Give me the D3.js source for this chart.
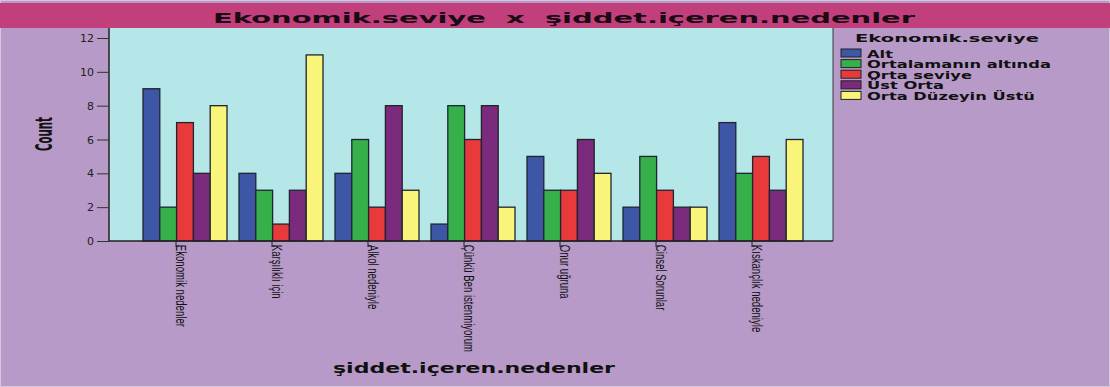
<!DOCTYPE html>
<html>
<head>
<meta charset="utf-8">
<script src="https://cdn.jsdelivr.net/npm/d3@7"></script>
<style>
  body { margin: 0; background: #b89ac8; }
  svg { display: block; }
</style>
</head>
<body>
<svg id="chart" width="1110" height="387"></svg>
<script>
const categories = [
  "Ekonomik nedenler",
  "Karşılıklı için",
  "Alkol nedeniyle",
  "Çünkü Ben istenmiyorum",
  "Onur uğruna",
  "Cinsel Sorunlar",
  "Kıskançlık nedeniyle",
];
const seriesNames = ["Alt", "Ortalamanın altında", "Orta seviye", "Üst Orta", "Orta Düzeyin Üstü"];
const seriesColors = ["#3d56a6", "#36b04a", "#e83a3a", "#7b2b7c", "#f9f57a"];
const alt = [9, 4, 4, 1, 5, 2, 7];
const ortalamaninAltinda = [2, 3, 6, 8, 3, 5, 4];
const ortaSeviye = [7, 1, 2, 6, 3, 3, 5];
const ustOrta = [4, 3, 8, 8, 6, 2, 3];
const ortaDuzeyinUstu = [8, 11, 3, 2, 4, 2, 6];
const yTicks = [0, 2, 4, 6, 8, 10, 12];

const seriesValues = [alt, ortalamaninAltinda, ortaSeviye, ustOrta, ortaDuzeyinUstu];

const svg = d3.select("#chart");
const W = 1110, H = 387;
const plot = { left: 109, right: 833, top: 28, bottom: 241 };
const sans = "DejaVu Sans, Liberation Sans, sans-serif";

// background + frame
svg.append("rect").attr("x", 0.5).attr("y", 0.5).attr("width", W - 1).attr("height", H - 1)
  .attr("fill", "#b89ac8").attr("stroke", "#d6c6de").attr("stroke-width", 1);

// title bar (the source image is stretched wide, so texts get a fixed length)
svg.append("rect").attr("x", 0).attr("y", 3).attr("width", W).attr("height", 25).attr("fill", "#c1407c");
svg.append("text").attr("x", 213).attr("y", 22.5)
  .attr("font-family", sans).attr("font-weight", "bold")
  .attr("font-size", 14.5).attr("fill", "#1a0a14")
  .attr("xml:space", "preserve")
  .attr("textLength", 702).attr("lengthAdjust", "spacingAndGlyphs")
  .text("Ekonomik.seviye  x  şiddet.içeren.nedenler");

// plot area
svg.append("rect").attr("x", plot.left).attr("y", plot.top)
  .attr("width", plot.right - plot.left).attr("height", plot.bottom - plot.top)
  .attr("fill", "#b5e6e8");

const x0 = d3.scaleBand().domain(categories).range([143, 803]).paddingInner(0.125).paddingOuter(0);
const x1 = d3.scaleBand().domain(seriesNames).range([0, x0.bandwidth()]).padding(0);
const y = d3.scaleLinear().domain([0, 12]).range([plot.bottom, 38]);

const groups = svg.append("g").selectAll("g")
  .data(categories)
  .join("g")
  .attr("transform", d => `translate(${x0(d)},0)`);

groups.selectAll("rect")
  .data((c, ci) => seriesNames.map((s, si) => ({ s, si, v: seriesValues[si][ci] })))
  .join("rect")
  .attr("x", d => x1(d.s))
  .attr("y", d => y(d.v))
  .attr("width", x1.bandwidth())
  .attr("height", d => y(0) - y(d.v))
  .attr("fill", d => seriesColors[d.si])
  .attr("stroke", "#1f2430")
  .attr("stroke-width", 1.3);

// right edge of plot
svg.append("line").attr("x1", plot.right).attr("x2", plot.right).attr("y1", plot.top).attr("y2", plot.bottom)
  .attr("stroke", "#3a3a3a").attr("stroke-width", 1);

// y axis
const yAxis = svg.append("g").attr("transform", `translate(${plot.left},0)`)
  .call(d3.axisLeft(y).tickValues(yTicks).tickSize(12).tickPadding(3).tickSizeOuter(0));
yAxis.select(".domain").attr("stroke", "#222").attr("stroke-width", 1.5)
  .attr("d", `M0,${plot.top}V${plot.bottom}`);
yAxis.selectAll(".tick line").attr("stroke", "#333");
yAxis.selectAll(".tick text").attr("font-family", sans)
  .attr("font-size", 11).attr("fill", "#222");

// x axis
const xAxis = svg.append("g").attr("transform", `translate(0,${plot.bottom})`)
  .call(d3.axisBottom(x0).tickSize(0).tickSizeOuter(0));
xAxis.select(".domain").attr("stroke", "#222").attr("stroke-width", 1.5)
  .attr("d", `M${plot.left},0H${plot.right}`);
xAxis.selectAll(".tick").attr("transform", d => `translate(${x0(d) + x0.bandwidth() / 2 - 9},0)`);
xAxis.selectAll(".tick text")
  .attr("transform", "rotate(90) scale(0.64,1)")
  .attr("x", 6).attr("y", 0).attr("dy", 0)
  .attr("text-anchor", "start")
  .attr("font-family", "Liberation Sans, Arial, sans-serif")
  .attr("font-size", 15).attr("fill", "#111");
xAxis.selectAll(".tick").append("line")
  .attr("x1", 0).attr("x2", 0).attr("y1", 0).attr("y2", 6).attr("stroke", "#222");
xAxis.selectAll(".tick").append("line")
  .attr("x1", 0).attr("x2", 3).attr("y1", 5).attr("y2", 5).attr("stroke", "#222");

// axis titles
svg.append("text").attr("transform", "translate(52,134) rotate(-90) scale(1,1.8)")
  .attr("text-anchor", "middle")
  .attr("font-family", sans)
  .attr("font-weight", "bold").attr("font-size", 13).attr("fill", "#111")
  .attr("textLength", 34).attr("lengthAdjust", "spacingAndGlyphs")
  .text("Count");
svg.append("text").attr("x", 333).attr("y", 373)
  .attr("font-family", sans).attr("font-weight", "bold")
  .attr("font-size", 13.5).attr("fill", "#111")
  .attr("textLength", 282).attr("lengthAdjust", "spacingAndGlyphs")
  .text("şiddet.içeren.nedenler");

// legend
const legend = svg.append("g");
legend.append("text").attr("x", 855).attr("y", 42)
  .attr("font-family", sans).attr("font-weight", "bold")
  .attr("font-size", 11).attr("fill", "#111")
  .attr("textLength", 184).attr("lengthAdjust", "spacingAndGlyphs")
  .text("Ekonomik.seviye");
const items = legend.selectAll("g.item").data(seriesNames).join("g").attr("class", "item")
  .attr("transform", (d, i) => `translate(841,${49 + i * 10.6})`);
items.append("rect").attr("width", 20).attr("height", 8)
  .attr("fill", (d, i) => seriesColors[i]).attr("stroke", "#222").attr("stroke-width", 1);
const itemText = items.append("text").attr("y", 8.5)
  .attr("font-family", sans).attr("font-weight", "bold")
  .attr("font-size", 10).attr("fill", "#111").text(d => d);
// stretch item labels so "Ortalamanın altında" spans ~184px like the source
const widest = d3.max(itemText.nodes(), n => n.getComputedTextLength());
const sx = 184 / widest;
itemText.attr("transform", `translate(26,0) scale(${sx},1)`);
</script>
</body>
</html>
